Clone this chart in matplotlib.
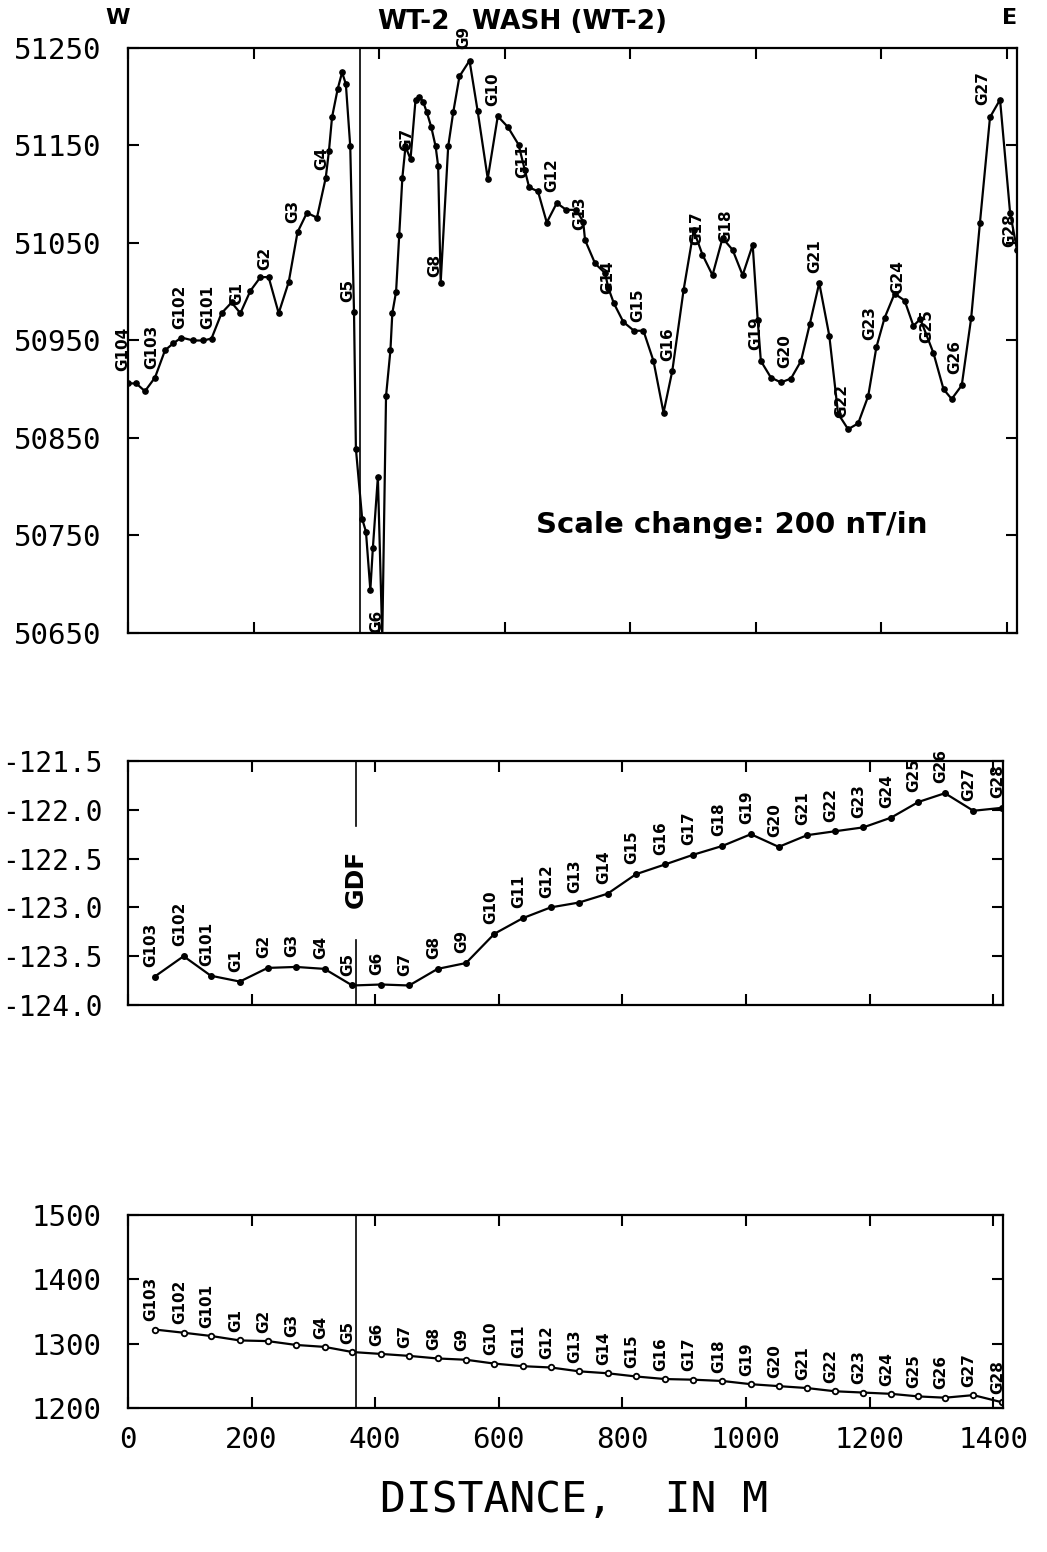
import matplotlib.pyplot as plt
from matplotlib.ticker import FuncFormatter

plt.rcParams['font.family'] = ['DejaVu Sans Mono']

# gravity / elevation stations along the traverse (distance in m)
stations = ['G103', 'G102', 'G101', 'G1', 'G2', 'G3', 'G4', 'G5', 'G6', 'G7',
            'G8', 'G9', 'G10', 'G11', 'G12', 'G13', 'G14', 'G15', 'G16', 'G17',
            'G18', 'G19', 'G20', 'G21', 'G22', 'G23', 'G24', 'G25', 'G26', 'G27',
            'G28']
station_dist = [43, 90, 134, 181, 226, 272, 318, 363, 410, 455,
                501, 547, 593, 639, 684, 730, 776, 822, 869, 915,
                962, 1008, 1053, 1099, 1144, 1190, 1235, 1279, 1322, 1368,
                1414]
bouguer = [-123.71, -123.50, -123.70, -123.76, -123.62, -123.61, -123.63, -123.80,
           -123.79, -123.80, -123.63, -123.57, -123.27, -123.11, -123.00, -122.95,
           -122.86, -122.66, -122.56, -122.46, -122.37, -122.25, -122.38, -122.26,
           -122.22, -122.18, -122.08, -121.92, -121.83, -122.01, -121.98]
elevation = [1322, 1317, 1312, 1305, 1304, 1298, 1295, 1287, 1284, 1281,
             1277, 1275, 1269, 1265, 1263, 1257, 1254, 1249, 1245, 1244,
             1242, 1237, 1234, 1231, 1226, 1224, 1222, 1218, 1216, 1220,
             1209]

# total magnetic field readings (nT)
mag_dist = [0, 13, 27, 43, 59, 72, 85, 104, 120, 133, 149, 165, 179, 195, 211,
            224, 240, 256, 270, 285, 301, 315, 320, 325, 334, 341, 347, 354,
            360, 363, 373, 379, 386, 390, 398, 405, 411, 418, 421, 427, 432,
            437, 442, 450, 458, 464, 470, 476, 483, 490, 494, 498, 510, 518,
            528, 544, 557, 573, 589, 605, 622, 632, 639, 653, 667, 683, 698,
            714, 725, 728, 744, 760, 765, 774, 789, 806, 821, 837, 853, 867,
            885, 901, 915, 931, 947, 963, 979, 995, 1003, 1008, 1024, 1040,
            1056, 1072, 1086, 1101, 1117, 1131, 1147, 1163, 1179, 1192, 1205,
            1221, 1237, 1251, 1262, 1283, 1299, 1312, 1328, 1343, 1357, 1373,
            1389, 1405, 1416]
mag_nt = [50906, 50906, 50898, 50912, 50940, 50947, 50953, 50950, 50950, 50952,
          50978, 50989, 50978, 51001, 51015, 51015, 50978, 51010, 51061, 51081,
          51076, 51117, 51144, 51179, 51208, 51225, 51213, 51149, 50979, 50839,
          50767, 50754, 50694, 50737, 50810, 50645, 50893, 50940, 50978, 51000,
          51058, 51117, 51149, 51136, 51197, 51200, 51195, 51184, 51169, 51149,
          51129, 51009, 51149, 51184, 51221, 51237, 51185, 51116, 51180, 51169,
          51151, 51125, 51107, 51103, 51071, 51091, 51084, 51084, 51072, 51053,
          51029, 51019, 51004, 50988, 50969, 50960, 50960, 50929, 50876, 50919,
          51002, 51063, 51038, 51017, 51055, 51043, 51017, 51048, 50971, 50929,
          50912, 50907, 50911, 50929, 50967, 51009, 50955, 50875, 50859, 50865,
          50893, 50943, 50973, 50998, 50991, 50965, 50972, 50937, 50900, 50890,
          50904, 50973, 51071, 51179, 51197, 51081, 51043]

# station tags on the magnetic profile
mag_tags = ['G104', 'G103', 'G102', 'G101', 'G1', 'G2', 'G3', 'G4', 'G5', 'G6',
            'G7', 'G8', 'G9', 'G10', 'G11', 'G12', 'G13', 'G14', 'G15', 'G16',
            'G17', 'G18', 'G19', 'G20', 'G21', 'G22', 'G23', 'G24', 'G25', 'G26',
            'G27', 'G28']
mag_tag_dist = [-8, 38, 83, 127, 173, 218, 263, 309, 350, 396,
                444, 489, 534, 581, 629, 675, 720, 764, 812, 860,
                906, 952, 1000, 1046, 1094, 1137, 1182, 1226, 1272, 1317,
                1361, 1404]
mag_tag_nt = [50919, 50921, 50962, 50962, 50986, 51022, 51071, 51125, 50989, 50650,
              51144, 51015, 51249, 51190, 51117, 51102, 51063, 50998, 50969, 50929,
              51048, 51050, 50940, 50922, 51019, 50871, 50950, 50998, 50947, 50916,
              51192, 51046]

gdf_dist = 369
xmax = 1416

W, H = 1047, 1552
fig = plt.figure(figsize=(W / 100, H / 100), dpi=100)


def px_axes(left, top, right, bottom):
    return fig.add_axes([left / W, 1 - bottom / H, (right - left) / W, (bottom - top) / H])


def style(ax):
    for s in ax.spines.values():
        s.set_linewidth(1.6)
    ax.tick_params(direction='in', length=8, width=1.5, top=True, right=True,
                   labelsize=21, pad=19)
    ax.set_xlim(0, xmax)
    ax.set_xticks(range(0, 1401, 200))


bold = dict(family='DejaVu Sans', fontweight='bold')
tag_size = 11

# --- magnetics ---
ax1 = px_axes(128, 48, 1017, 633)
style(ax1)
ax1.plot(mag_dist, mag_nt, color='black', lw=1.6, marker='o', ms=3.8)
ax1.axvline(gdf_dist, color='black', lw=1.2)
ax1.set_ylim(50650, 51250)
ax1.set_yticks(range(50650, 51251, 100))
ax1.tick_params(labelbottom=False)
for name, x, y in zip(mag_tags, mag_tag_dist, mag_tag_nt):
    ax1.text(x, y, name, rotation=90, ha='center', va='bottom', fontsize=tag_size,
             clip_on=False, **bold)
fig.text(732 / W, 1 - 525 / H, 'Scale change: 200 nT/in', ha='center', va='center',
         fontsize=21, **bold)
fig.text(450 / W, 1 - 22 / H, 'WT-2', ha='right', va='center', fontsize=19, **bold)
fig.text(472 / W, 1 - 22 / H, 'WASH (WT-2)', ha='left', va='center', fontsize=19, **bold)
fig.text(118 / W, 1 - 18 / H, 'W', ha='center', va='center', fontsize=16, **bold)
fig.text(1010 / W, 1 - 18 / H, 'E', ha='center', va='center', fontsize=16, **bold)

# --- Bouguer gravity ---
ax2 = px_axes(128, 761, 1003, 1005)
style(ax2)
ax2.plot(station_dist, bouguer, color='black', lw=1.6, marker='o', ms=4)
ax2.set_ylim(-124, -121.5)
ax2.set_yticks([-124.0, -123.5, -123.0, -122.5, -122.0, -121.5])
ax2.yaxis.set_major_formatter(FuncFormatter(lambda v, p: f'{v:.1f}'))
ax2.tick_params(labelbottom=False)
ax2.tick_params(axis='y', labelsize=20, pad=18)
ax2.plot([gdf_dist, gdf_dist], [-121.5, -122.17], color='black', lw=1.2)
ax2.plot([gdf_dist, gdf_dist], [-123.33, -124.0], color='black', lw=1.2)
ax2.text(gdf_dist, -122.71, 'GDF', rotation=90, ha='center', va='center',
         fontsize=18, **bold)
for name, x, y in zip(stations, station_dist, bouguer):
    ax2.annotate(name, (x, y), xytext=(-3, 7), textcoords='offset points',
                 rotation=90, ha='center', va='bottom', fontsize=tag_size,
                 annotation_clip=False, **bold)

# --- elevation ---
ax3 = px_axes(128, 1215, 1003, 1408)
style(ax3)
ax3.plot(station_dist, elevation, color='black', lw=1.6, marker='o', ms=4,
         mfc='white', mew=1.3)
ax3.axvline(gdf_dist, color='black', lw=1.2)
ax3.set_ylim(1200, 1500)
ax3.set_yticks(range(1200, 1501, 100))
ax3.tick_params(pad=13, axis='x')
for name, x, y in zip(stations, station_dist, elevation):
    ax3.annotate(name, (x, y), xytext=(-3, 6), textcoords='offset points',
                 rotation=90, ha='center', va='bottom', fontsize=tag_size,
                 annotation_clip=False, **bold)

fig.text(574 / W, 1 - 1500 / H, 'DISTANCE,  IN M', ha='center', va='center',
         fontsize=31)

fig.savefig('out.png', dpi=100)
